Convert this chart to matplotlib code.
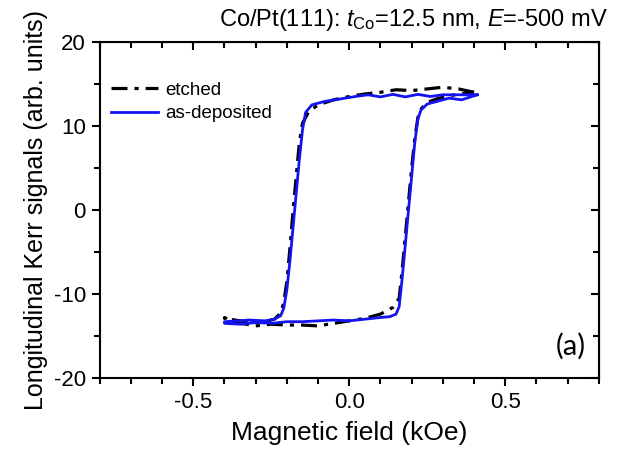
import numpy as np
import matplotlib
matplotlib.use("AGG")
import matplotlib.pyplot as plt
from matplotlib.ticker import MultipleLocator

plt.rcParams['font.family'] = ['Liberation Sans', 'DejaVu Sans']
plt.rcParams['mathtext.fontset'] = 'custom'
plt.rcParams['mathtext.it'] = 'Liberation Sans:italic'
plt.rcParams['mathtext.rm'] = 'Liberation Sans'

# etched, field sweep down (+ -> -)
etch_dn_x = [0.40, 0.35, 0.30, 0.25, 0.20, 0.15, 0.10, 0.05, 0.00, -0.05, -0.10, -0.13, -0.15,
             -0.16, -0.17, -0.18, -0.19, -0.20, -0.21, -0.22, -0.24, -0.27, -0.30, -0.35, -0.40]
etch_dn_y = [14.0, 14.4, 14.6, 14.4, 14.2, 14.3, 14.0, 13.8, 13.5, 13.1, 12.5, 11.7, 10.3,
             8.0, 4.0, 0.0, -4.5, -8.5, -11.0, -12.3, -13.0, -13.3, -13.4, -13.2, -12.9]
# etched, field sweep up (- -> +)
etch_up_x = [-0.40, -0.37, -0.33, -0.30, -0.25, -0.20, -0.15, -0.10, -0.05, 0.00, 0.05, 0.10, 0.14,
             0.16, 0.17, 0.18, 0.19, 0.20, 0.21, 0.22, 0.23, 0.25, 0.28, 0.32, 0.36, 0.40]
etch_up_y = [-12.8, -13.4, -13.6, -13.8, -13.6, -13.7, -13.7, -13.8, -13.5, -13.2, -12.9, -12.4, -11.6,
             -10.5, -7.0, -3.0, 1.0, 5.0, 8.5, 11.0, 12.0, 12.8, 13.2, 13.6, 13.8, 14.0]

# as-deposited, field sweep down
dep_dn_x = [0.41, 0.35, 0.30, 0.26, 0.22, 0.18, 0.14, 0.10, 0.06, 0.02, -0.03, -0.08, -0.12, -0.14,
            -0.15, -0.16, -0.17, -0.18, -0.19, -0.20, -0.21, -0.22, -0.24, -0.27, -0.32, -0.40]
dep_dn_y = [13.7, 13.7, 13.7, 13.5, 13.75, 13.45, 13.75, 13.45, 13.7, 13.5, 13.2, 12.9, 12.5, 11.6,
            9.5, 6.0, 2.0, -2.0, -6.0, -9.5, -11.7, -12.6, -13.0, -13.2, -13.1, -13.3]
# as-deposited, field sweep up
dep_up_x = [-0.40, -0.35, -0.30, -0.25, -0.20, -0.15, -0.10, -0.05, 0.00, 0.05, 0.10, 0.13, 0.15,
            0.16, 0.17, 0.18, 0.19, 0.20, 0.21, 0.22, 0.23, 0.25, 0.28, 0.32, 0.36, 0.41]
dep_up_y = [-13.5, -13.6, -13.4, -13.5, -13.3, -13.3, -13.2, -13.1, -13.2, -13.0, -12.8, -12.7, -12.4,
            -11.5, -8.0, -4.0, 0.0, 4.0, 8.0, 10.8, 11.9, 12.6, 12.9, 13.3, 13.1, 13.7]

fig = plt.figure(figsize=(6.31, 4.5), dpi=100)
ax = fig.add_axes([0.158, 0.16, 0.791, 0.747])

ax.plot(etch_dn_x + etch_up_x, etch_dn_y + etch_up_y, color='black', lw=2.3,
        dashes=(5, 2.2, 1.3, 2.2), label='etched')
ax.plot(dep_dn_x + dep_up_x, dep_dn_y + dep_up_y, color='#1414f0', lw=2.0, label='as-deposited')

ax.set_xlim(-0.8, 0.8)
ax.set_ylim(-20, 20)
ax.xaxis.set_minor_locator(MultipleLocator(0.1))
ax.yaxis.set_minor_locator(MultipleLocator(5))
ax.set_xticks([-0.5, 0.0, 0.5])
ax.set_xticklabels(['-0.5', '0.0', '0.5'])
ax.set_yticks([-20, -10, 0, 10, 20])
ax.set_yticklabels(['-20', '-10', '0', '10', '20'])

for s in ax.spines.values():
    s.set_linewidth(1.5)
ax.tick_params(which='both', direction='out', width=1.5, labelsize=16, pad=4)
ax.tick_params(which='major', length=6)
ax.tick_params(which='minor', length=4)
ax2 = ax.secondary_xaxis('top')
ax2.xaxis.set_major_locator(MultipleLocator(0.5))
ax2.xaxis.set_minor_locator(MultipleLocator(0.1))
ax2.tick_params(which='both', direction='in', width=1.5, labeltop=False)
ax2.tick_params(which='major', length=6)
ax2.tick_params(which='minor', length=4)
ax3 = ax.secondary_yaxis('right')
ax3.yaxis.set_major_locator(MultipleLocator(10))
ax3.yaxis.set_minor_locator(MultipleLocator(5))
ax3.tick_params(which='both', direction='in', width=1.5, labelright=False)
ax3.tick_params(which='major', length=6)
ax3.tick_params(which='minor', length=4)

ax.set_xlabel('Magnetic field (kOe)', fontsize=19, labelpad=6)
ax.set_ylabel('Longitudinal Kerr signals (arb. units)', fontsize=18, labelpad=4)
fig.text(608 / 631, 1 - 20 / 450, r'Co/Pt(111): $t_{\rm Co}$=12.5 nm, $E$=-500 mV',
         fontsize=17, ha='right', va='center')
ax.text(0.975, 0.055, '(a)', transform=ax.transAxes, ha='right', va='bottom',
        fontsize=21, family=['Lato', 'DejaVu Sans'])

ax.legend(loc='upper left', frameon=False, fontsize=13.5, handlelength=2.5,
          handletextpad=0.4, labelspacing=0.35, borderaxespad=0.2, bbox_to_anchor=(0.0, 0.915))

fig.savefig('out.png', dpi=100)
